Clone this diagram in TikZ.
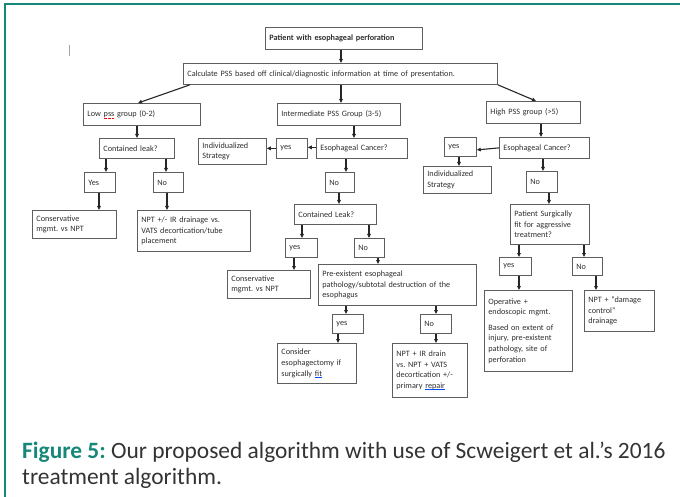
\documentclass[tikz,border=0pt]{standalone}
\usepackage{fontspec}
\setmainfont{Carlito}
\usetikzlibrary{arrows.meta}
\frenchspacing

\definecolor{figteal}{HTML}{16887A}
\definecolor{boxgray}{HTML}{5E5E5E}
\definecolor{inkgray}{HTML}{2E2E2E}
% word-processor check marks under single words
\newcommand\spellmark[1]{\setbox0\hbox{#1}\rlap{\textcolor{red}{\hbox to \wd0{\leaders\hbox{\rule[-1.6pt]{0.8pt}{0.5pt}\kern0.5pt}\hfill}}}\box0\relax}
\newcommand\grammark[1]{\setbox0\hbox{#1}\rlap{\textcolor{blue!70!cyan}{\rule[-1.6pt]{\wd0}{0.5pt}}}\box0\relax}

\begin{document}
\begin{tikzpicture}[x=1pt, y=-1pt,
    box/.style={draw=boxgray, line width=0.8pt, anchor=north west, align=left,
        inner xsep=4pt, inner ysep=1pt, text=inkgray, font=\fontsize{8.2}{10.6}\selectfont},
    arr/.style={-{Triangle[length=4pt, width=3.6pt]}, line width=1.1pt, draw=black!85},
    figframe/.style={figteal, line width=1.4pt},
    figcap/.style={anchor=base west, inner sep=0pt, text=black!80, font=\fontsize{23.4}{26}\selectfont}
]
    \useasboundingbox (0,0) rectangle (680,497);
    % Rahmen
    \draw[figframe] (4,4) -- (680,4);
    \draw[figframe] (5,4) -- (5,497);
    \draw[gray!70, line width=0.8pt] (69,45) -- (69,56);

    % Kopf
    \node[box, text width=149pt, minimum height=22pt] (start) at (265,27) {\bfseries Patient with esophageal perforation};
    \node[box, text width=306pt, minimum height=21pt] (pss) at (183,63) {Calculate PSS based off clinical/diagnostic information at time of presentation.};
    \node[box, text width=109pt, minimum height=22pt] (low) at (83,103) {Low \spellmark{pss} group (0-2)};
    \node[box, text width=115pt, minimum height=22pt] (mid) at (277,103) {Intermediate PSS Group (3-5)};
    \node[box, text width=86pt, minimum height=22pt] (high) at (486,101) {High PSS group (>5)};

    % Zweig niedrig
    \node[box, text width=67pt, minimum height=20pt] (leaklow) at (99,138) {Contained leak?};
    \node[box, text width=23pt, minimum height=20pt] (yeslow) at (84,172) {Yes};
    \node[box, text width=22pt, minimum height=20pt] (nolow) at (153,172) {No};
    \node[box, text width=76pt, minimum height=28pt] (conslow) at (32,210) {Conservative\\mgmt. vs NPT};
    \node[box, text width=105pt, minimum height=41pt] (nptlow) at (137,210) {NPT +/- IR drainage vs.\\VATS decortication/tube\\placement};

    % Zweig mittel
    \node[box, text width=83pt, minimum height=20pt] (cancmid) at (316,138) {Esophageal Cancer?};
    \node[box, text width=23pt, minimum height=20pt] (yesmid) at (276,138) {yes};
    \node[box, text width=60pt, minimum height=26pt] (indmid) at (198,138) {Individualized\\Strategy};
    \node[box, text width=21pt, minimum height=20pt] (nomid) at (325,172) {No};
    \node[box, text width=74pt, minimum height=20pt] (leakmid) at (294,204) {Contained Leak?};
    \node[box, text width=24pt, minimum height=19pt] (yesleak) at (285,238) {yes};
    \node[box, text width=22pt, minimum height=19pt] (noleak) at (354,238) {No};
    \node[box, text width=75pt, minimum height=28pt] (consmid) at (227,270) {Conservative\\mgmt. vs NPT};
    \node[box, text width=150pt, minimum height=41pt] (prepath) at (318,264) {Pre-existent esophageal\\pathology/subtotal destruction of the\\esophagus};
    \node[box, text width=23pt, minimum height=19pt] (yespre) at (332,314) {yes};
    \node[box, text width=23pt, minimum height=19pt] (nopre) at (420,314) {No};
    \node[box, text width=71pt, minimum height=40pt] (resect) at (277,343) {Consider\\esophagectomy if\\surgically \grammark{fit}};
    \node[box, text width=67pt, minimum height=54pt] (nptmid) at (392,343) {NPT + IR drain\\vs. NPT + VATS\\decortication +/-\\primary \grammark{repair}};

    % Zweig hoch
    \node[box, text width=82pt, minimum height=21pt] (canchigh) at (499,137) {Esophageal Cancer?};
    \node[box, text width=24pt, minimum height=19pt] (yeshigh) at (444,137) {yes};
    \node[box, text width=60pt, minimum height=27pt] (indhigh) at (423,166) {Individualized\\Strategy};
    \node[box, text width=23pt, minimum height=21pt] (nohigh) at (526,171) {No};
    \node[box, text width=71pt, minimum height=40pt] (fit) at (510,204) {Patient Surgically\\fit for aggressive\\treatment?};
    \node[box, text width=24pt, minimum height=18pt] (yesfit) at (499,257) {yes};
    \node[box, text width=22pt, minimum height=18pt] (nofit) at (572,257) {No};
    \node[box, text width=80pt, minimum height=81pt] (operative) at (484,290) {Operative +\\endoscopic mgmt.\\[5pt]Based on extent of\\injury, pre-existent\\pathology, site of\\perforation};
    \node[box, text width=62pt, minimum height=41pt] (control) at (584,290) {NPT + “damage\\control”\\drainage};

    % Pfeile Kopf
    \draw[arr] ([xshift=76pt]start.south west) coordinate (s) -- (s |- pss.north);
    \draw[arr] ([xshift=7pt]pss.south west) -- ([xshift=55pt]low.north west);
    \draw[arr] ([xshift=158pt]pss.south west) coordinate (s) -- (s |- mid.north);
    \draw[arr] (pss.south east) -- ([xshift=50pt]high.north west);
    % Pfeile niedrig
    \draw[arr] ([xshift=54pt]low.south west) coordinate (s) -- (s |- leaklow.north);
    \draw[arr] ([xshift=7pt]leaklow.south west) coordinate (s) -- (s |- yeslow.north);
    \draw[arr] ([xshift=67pt]leaklow.south west) coordinate (s) -- (s |- nolow.north);
    \draw[arr] ([xshift=15pt]yeslow.south west) coordinate (s) -- (s |- conslow.north);
    \draw[arr] ([xshift=14pt]nolow.south west) coordinate (s) -- (s |- nptlow.north);
    % Pfeile mittel
    \draw[arr] ([xshift=77pt]mid.south west) coordinate (s) -- (s |- cancmid.north);
    \draw[arr] ([yshift=1pt]cancmid.west) coordinate (s) -- (s -| yesmid.east);
    \draw[arr] (yesmid.west) coordinate (s) -- (s -| indmid.east);
    \draw[arr] ([xshift=30pt]cancmid.south west) coordinate (s) -- (s |- nomid.north);
    \draw[arr] ([xshift=14pt]nomid.south west) coordinate (s) -- (s |- leakmid.north);
    \draw[arr] ([xshift=8pt]leakmid.south west) coordinate (s) -- (s |- yesleak.north);
    \draw[arr] ([xshift=75pt]leakmid.south west) coordinate (s) -- (s |- noleak.north);
    \draw[arr] ([xshift=9pt]yesleak.south west) coordinate (s) -- (s |- consmid.north);
    \draw[arr] ([xshift=24pt]noleak.south west) coordinate (s) -- (s |- prepath.north);
    \draw[arr] ([xshift=28pt]prepath.south west) coordinate (s) -- (s |- yespre.north);
    \draw[arr] ([xshift=118pt]prepath.south west) coordinate (s) -- (s |- nopre.north);
    \draw[arr] ([xshift=6pt]yespre.south west) coordinate (s) -- (s |- resect.north);
    \draw[arr] ([xshift=16pt]nopre.south west) coordinate (s) -- (s |- nptmid.north);
    % Pfeile hoch
    \draw[arr] ([xshift=55pt]high.south west) coordinate (s) -- (s |- canchigh.north);
    \draw[arr] (canchigh.west) -- ([yshift=-3pt]yeshigh.east);
    \draw[arr] ([xshift=15pt]yeshigh.south west) coordinate (s) -- (s |- indhigh.north);
    \draw[arr] ([xshift=44pt]canchigh.south west) coordinate (s) -- (s |- nohigh.north);
    \draw[arr] ([xshift=23pt]nohigh.south west) coordinate (s) -- (s |- fit.north);
    \draw[arr] ([xshift=9pt]fit.south west) coordinate (s) -- (s |- yesfit.north);
    \draw[arr] ([xshift=74pt]fit.south west) coordinate (s) -- (s |- nofit.north);
    \draw[arr] ([xshift=20pt]yesfit.south west) coordinate (s) -- (s |- operative.north);
    \draw[arr] ([xshift=24pt]nofit.south west) coordinate (s) -- (s |- control.north);

    % Bildunterschrift
    \node[figcap] (capa) at (22,458) {\textcolor{figteal}{\bfseries Figure 5:} Our proposed algorithm with use of Scweigert et al.’s 2016};
    \node[figcap] (capb) at (22,484) {treatment algorithm.};
\end{tikzpicture}
\end{document}
